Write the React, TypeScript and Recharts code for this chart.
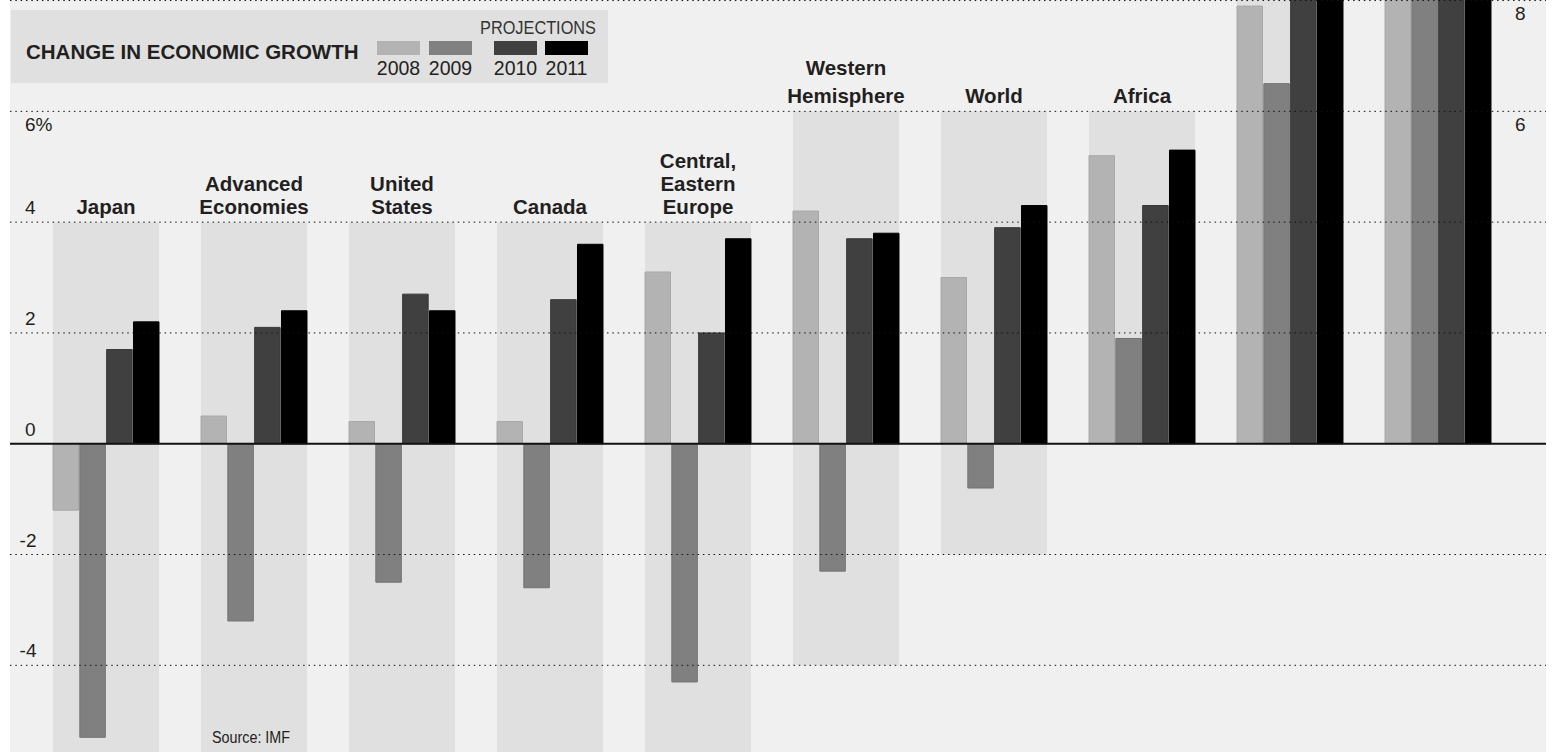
import { ComposedChart, Bar, XAxis, YAxis, ReferenceLine, LabelList } from "recharts"

// IMF growth estimates and projections, percent change
const categories = [
  "Japan",
  "Advanced Economies",
  "United States",
  "Canada",
  "Central, Eastern Europe",
  "Western Hemisphere",
  "World",
  "Africa",
  "Developing Asia",
  "China",
]
const labelLines = [
  ["Japan"],
  ["Advanced", "Economies"],
  ["United", "States"],
  ["Canada"],
  ["Central,", "Eastern", "Europe"],
  ["Western", "Hemisphere"],
  ["World"],
  ["Africa"],
  [],
  [],
]
const growth2008 = [-1.2, 0.5, 0.4, 0.4, 3.1, 4.2, 3.0, 5.2, 7.9, 9.6]
const growth2009 = [-5.3, -3.2, -2.5, -2.6, -4.3, -2.3, -0.8, 1.9, 6.5, 8.7]
const growth2010 = [1.7, 2.1, 2.7, 2.6, 2.0, 3.7, 3.9, 4.3, 8.4, 10.0]
const growth2011 = [2.2, 2.4, 2.4, 3.6, 3.7, 3.8, 4.3, 5.3, 8.4, 9.7]
// shaded panel behind each group: [bottom, top]
const shadeBottom = [-6, -6, -6, -6, -6, -4, -2, 0, 0, 0]
const shadeTop = [4, 4, 4, 4, 4, 6, 6, 6, 10, 10]

const years = ["2008", "2009", "2010", "2011"]
const yTicks = [8, 6, 4, 2, 0, -2, -4]

const colors = ["#b3b3b3", "#808080", "#404040", "#000000"]
const strokes = ["#a8a8a8", "#737373", "#363636", "#000000"]
const INK = "#231f20"
const FONT = "'Liberation Sans', Arial, sans-serif"

const rows = categories.map((name, i) => ({
  name,
  shade: [shadeBottom[i], shadeTop[i]],
  y2008: growth2008[i],
  y2009: growth2009[i],
  y2010: growth2010[i],
  y2011: growth2011[i],
}))

function tickLabel(v: number) {
  return (p: any) => {
    const vb = p.viewBox ?? p
    const y = vb.y
    const out = []
    if (v <= 6) {
      const below = v >= 6
      out.push(
        <text
          key="l"
          x={v < 0 ? 36.5 : 25}
          y={y + (below ? 20 : -8)}
          textAnchor={v < 0 ? "end" : "start"}
          fontSize={19}
          fontFamily={FONT}
          fill={INK}
        >
          {v === 6 ? "6%" : String(v)}
        </text>
      )
    }
    if (v >= 6) {
      out.push(
        <text key="r" x={1515} y={y + 19.5} fontSize={19} fontFamily={FONT} fill={INK}>
          {String(v)}
        </text>
      )
    }
    return <g>{out}</g>
  }
}

function GroupLabel(props: any) {
  const vb = props.viewBox ?? props
  const { x, y, width, height } = vb
  const idx = props.index ?? 0
  const lines = labelLines[idx] || []
  if (!lines.length) return null
  const top = Math.min(y, y + height)
  const lead = categories[idx] === "Western Hemisphere" ? 27.5 : 23
  const cx = x + width / 2
  const last = top - 8.5
  return (
    <text textAnchor="middle" fontSize={20.5} fontWeight="bold" fontFamily={FONT} fill={INK}>
      {lines.map((t, k) => (
        <tspan key={k} x={cx} y={last - (lines.length - 1 - k) * lead}>
          {t}
        </tspan>
      ))}
    </text>
  )
}

function Header() {
  const swatchX = [377, 429, 494, 545]
  return (
    <svg
      width={1557}
      height={100}
      style={{ position: "absolute", left: 0, top: 0, pointerEvents: "none" }}
    >
      <rect x={11} y={10} width={597} height={73} fill="#e0e0e0" />
      <text x={26} y={58.5} fontSize={20.5} fontWeight="bold" fontFamily={FONT} fill={INK}>
        CHANGE IN ECONOMIC GROWTH
      </text>
      <text
        x={480}
        y={34}
        fontSize={19}
        fontFamily={FONT}
        fill="#333"
        textLength={116}
        lengthAdjust="spacingAndGlyphs"
      >
        PROJECTIONS
      </text>
      {years.map((yr, i) => (
        <g key={yr}>
          <rect x={swatchX[i]} y={41} width={43} height={14} fill={colors[i]} />
          <text
            x={swatchX[i] + 21.5}
            y={75}
            textAnchor="middle"
            fontSize={19.5}
            fontFamily={FONT}
            fill={INK}
          >
            {yr}
          </text>
        </g>
      ))}
    </svg>
  )
}

export default function App() {
  const keys = ["y2008", "y2009", "y2010", "y2011"]
  return (
    <div
      style={{
        position: "absolute",
        left: 0,
        top: 0,
        width: 1557,
        height: 752,
        background: "#fff",
        overflow: "hidden",
      }}
    >
      <div
        style={{ position: "absolute", left: 10, top: 0, width: 1536, height: 752, background: "#f0f0f0" }}
      />
      <div style={{ position: "absolute", left: 0, top: 0 }}>
        <ComposedChart
          width={1557}
          height={752}
          data={rows}
          margin={{ top: 0, right: 11, bottom: 0, left: 10 }}
          barGap={1.33}
        >
          <XAxis xAxisId="bg" dataKey="name" hide padding={{ left: 22, right: 34 }} />
          <XAxis xAxisId="main" dataKey="name" hide padding={{ left: 22, right: 34 }} />
          <YAxis yAxisId="v" type="number" hide domain={[-5.565, 8.01]} allowDataOverflow />
          <Bar xAxisId="bg" yAxisId="v" dataKey="shade" barSize={106} fill="#e0e0e0" isAnimationActive={false}>
            <LabelList dataKey="name" content={(p: any) => <GroupLabel {...p} />} />
          </Bar>
          {keys.map((k, i) => (
            <Bar
              key={k}
              xAxisId="main"
              yAxisId="v"
              dataKey={k}
              barSize={25.5}
              fill={colors[i]}
              stroke={strokes[i]}
              strokeWidth={1}
              isAnimationActive={false}
            />
          ))}
          {yTicks.map((t) =>
            t === 0 ? (
              <ReferenceLine
                key={t}
                xAxisId="main"
                yAxisId="v"
                y={0}
                stroke="#111"
                strokeWidth={2}
                zIndex={1600}
                label={tickLabel(t)}
              />
            ) : (
              <ReferenceLine
                key={t}
                xAxisId="main"
                yAxisId="v"
                y={t}
                stroke="#111"
                strokeWidth={1}
                strokeDasharray="1.5 3.83"
                zIndex={1500}
                label={tickLabel(t)}
              />
            )
          )}
        </ComposedChart>
      </div>
      <Header />
      <svg width={90} height={24} style={{ position: "absolute", left: 212, top: 726 }}>
        <text x={0} y={17} fontSize={16} fontFamily={FONT} fill={INK} textLength={78} lengthAdjust="spacingAndGlyphs">
          Source: IMF
        </text>
      </svg>
    </div>
  )
}
